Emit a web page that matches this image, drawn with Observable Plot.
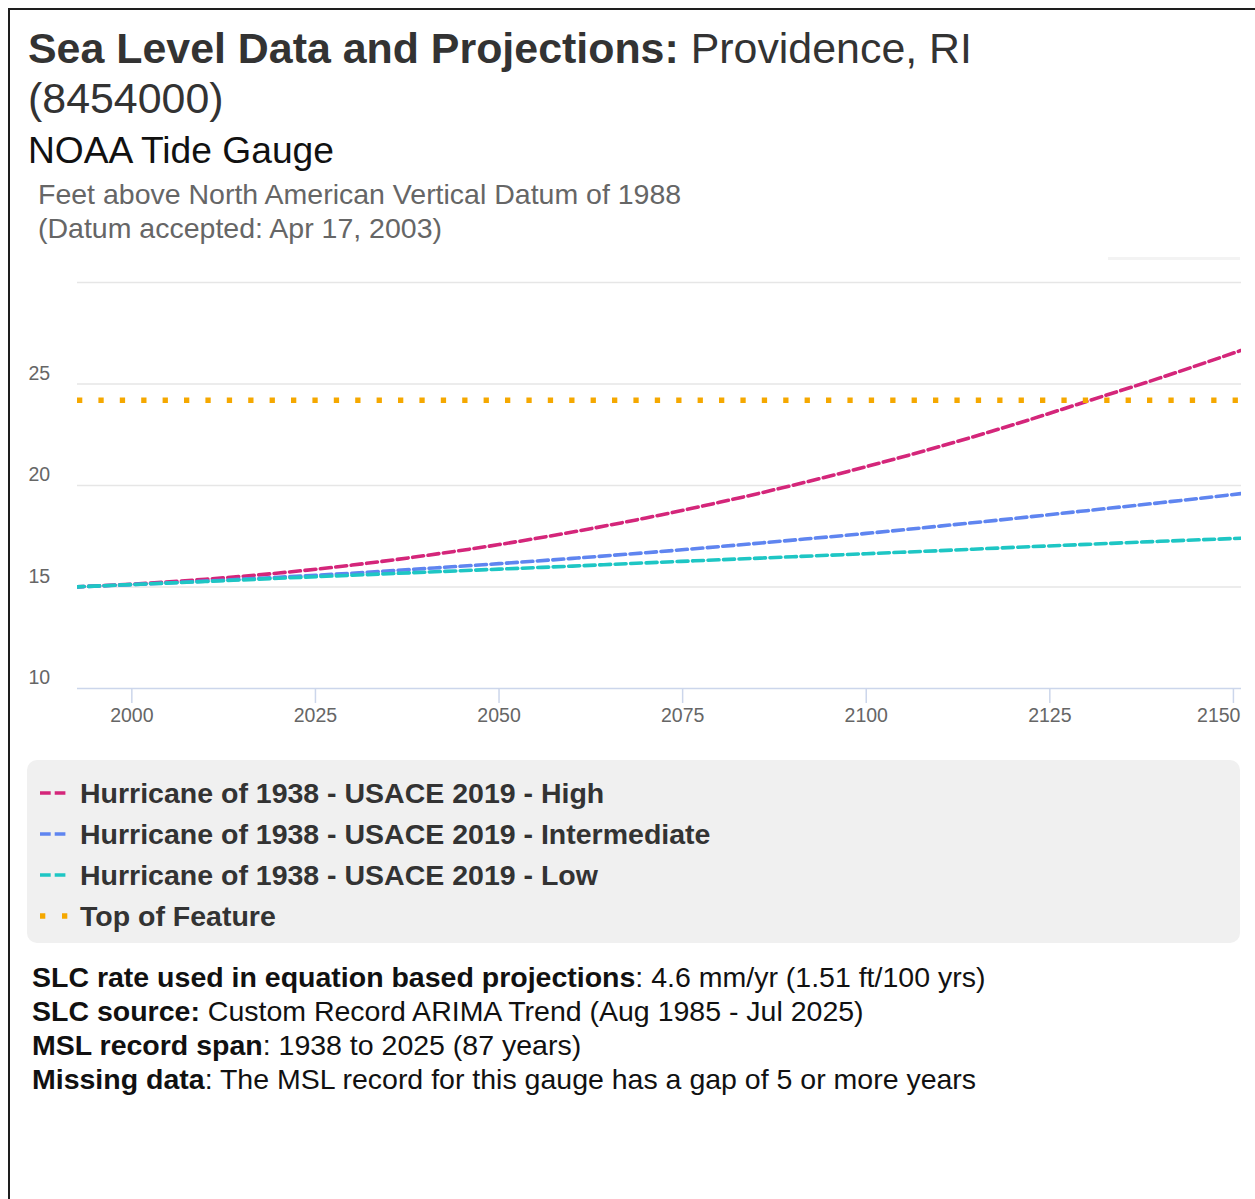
<!DOCTYPE html>
<html><head><meta charset="utf-8">
<script src="https://cdn.jsdelivr.net/npm/d3@7"></script>
<script src="https://cdn.jsdelivr.net/npm/@observablehq/plot@0.6"></script>
<style>
html,body{margin:0;padding:0;background:#fff;overflow:hidden;width:1255px;height:1199px;}
body{font-family:"Liberation Sans",Arial,Helvetica,sans-serif;position:relative;}
.frame{position:absolute;left:8px;top:8px;width:1300px;height:1300px;border-left:2px solid #1e1e1e;border-top:2px solid #1e1e1e;}
.abs{position:absolute;white-space:nowrap;}
#title{left:28px;top:23px;font-size:42.9px;line-height:50px;color:#333;}
#subtitle{left:28px;top:130px;font-size:37.2px;line-height:40px;color:#111;}
#ytitle{left:38px;top:177px;font-size:28.5px;line-height:34px;color:#666;}
#chart{left:0;top:250px;}
#deco{left:1108px;top:257px;width:132px;height:3px;background:#f3f3f3;}
#legend{left:27px;top:760px;width:1213px;height:183px;background:#f0f0f0;border-radius:10px;}
.row{position:absolute;left:0;height:41px;width:100%;}
.row svg{position:absolute;left:13px;top:15px;}
.row span{position:absolute;left:53px;top:0;font-size:28.5px;line-height:41px;font-weight:bold;color:#333;white-space:nowrap;}
#footer{left:32px;top:960px;font-size:28.5px;line-height:34px;color:#111;}
</style></head><body>
<div class="frame"></div>
<div id="title" class="abs"><b>Sea Level Data and Projections:</b> Providence, RI<br>(8454000)</div>
<div id="subtitle" class="abs">NOAA Tide Gauge</div>
<div id="ytitle" class="abs">Feet above North American Vertical Datum of 1988<br>(Datum accepted: Apr 17, 2003)</div>
<div id="deco" class="abs"></div>
<div id="chart" class="abs"></div>
<div id="legend" class="abs"></div>
<div id="footer" class="abs"><b>SLC rate used in equation based projections</b>: 4.6 mm/yr (1.51 ft/100 yrs)<br><b>SLC source:</b> Custom Record ARIMA Trend (Aug 1985 - Jul 2025)<br><b>MSL record span</b>: 1938 to 2025 (87 years)<br><b>Missing data</b>: The MSL record for this gauge has a gap of 5 or more years</div>
<script>
// ---- data ----
const years = [1992, 2000, 2010, 2020, 2030, 2040, 2050, 2060, 2070, 2080, 2090, 2100, 2110, 2120, 2130, 2140, 2151];
const highValues = [15.0, 15.14, 15.38, 15.69, 16.08, 16.55, 17.09, 17.71, 18.40, 19.17, 20.01, 20.93, 21.92, 22.99, 24.14, 25.30, 26.65];
const intermediateValues = [15.0, 15.12, 15.29, 15.48, 15.68, 15.91, 16.15, 16.41, 16.69, 16.99, 17.31, 17.64, 18.00, 18.37, 18.76, 19.15, 19.60];
const lowValues = [15.0, 15.12, 15.27, 15.43, 15.58, 15.73, 15.88, 16.03, 16.19, 16.34, 16.49, 16.64, 16.79, 16.95, 17.10, 17.25, 17.40];
const topOfFeature = [24.2];
const seriesNames = ["Hurricane of 1938 - USACE 2019 - High", "Hurricane of 1938 - USACE 2019 - Intermediate", "Hurricane of 1938 - USACE 2019 - Low", "Top of Feature"];
const seriesColors = ["#d4267a", "#5f85f0", "#1ec6c4", "#f5a800"];
const yTickLabels = [10, 15, 20, 25];
const gridValues = [15, 20, 25, 30];
const xTickLabels = [2000, 2025, 2050, 2075, 2100, 2125, 2150];

const projSeries = [highValues, intermediateValues, lowValues];
const rows = [];
projSeries.forEach((vals, i) => years.forEach((yr, j) => rows.push({series: seriesNames[i], year: yr, value: vals[j]})));

const lastTick = xTickLabels.slice(-1);

const chart = Plot.plot({
  width: 1255, height: 490,
  marginTop: 32, marginBottom: 52, marginLeft: 77, marginRight: 14,
  x: {domain: [1992.6, 2151.1]},
  y: {domain: [10, 30]},
  color: {domain: seriesNames, range: seriesColors},
  style: {fontFamily: '"Liberation Sans", Arial, sans-serif', fontSize: "19px", color: "#666", background: "transparent", overflow: "visible"},
  marks: [
    Plot.gridY(gridValues, {stroke: "#e6e6e6", strokeOpacity: 1, strokeWidth: 1.5}),
    Plot.axisY(yTickLabels, {anchor: "left", tickSize: 0, tickPadding: 0, textAnchor: "start", dx: -49, dy: -10.5, label: null, fill: "#666", fontSize: 19.5}),
    Plot.ruleY([10], {stroke: "#ccd6eb", strokeWidth: 1.5}),
    Plot.axisX(xTickLabels, {anchor: "bottom", tickSize: 15, tickPadding: 5, tickFormat: d => d === lastTick[0] ? "" : String(d), label: null, stroke: "#ccd6eb", strokeWidth: 1.5, fill: "#666", fontSize: 19.5}),
    Plot.axisX(lastTick, {anchor: "bottom", tickSize: 0, tickPadding: 20, tickFormat: d => String(d), label: null, fill: "#666", fontSize: 19.5, textAnchor: "end", dx: 7}),
    Plot.line(rows, {x: "year", y: "value", z: "series", stroke: "series", strokeWidth: 3.6, strokeDasharray: "11,4.5", curve: "monotone-x", clip: true}),
    Plot.ruleY(topOfFeature, {stroke: seriesColors[3], strokeWidth: 5.3, strokeDasharray: "5.3,16.1"})
  ]
});
document.getElementById("chart").appendChild(chart);

// ---- legend ----
const legend = document.getElementById("legend");
const rowTops = [13, 54, 95, 136];
seriesNames.forEach((name, i) => {
  const row = document.createElement("div");
  row.className = "row";
  row.style.top = rowTops[i] + "px";
  const isDot = i === 3;
  const dash = isDot ? "5.3,16.7" : "10.7,4";
  const sw = isDot ? 5.3 : 3.6;
  row.innerHTML = `<svg width="30" height="10"><line x1="0" x2="28" y1="5" y2="5" stroke="${seriesColors[i]}" stroke-width="${sw}" stroke-dasharray="${dash}"/></svg><span>${name}</span>`;
  legend.appendChild(row);
});
</script>
</body></html>
